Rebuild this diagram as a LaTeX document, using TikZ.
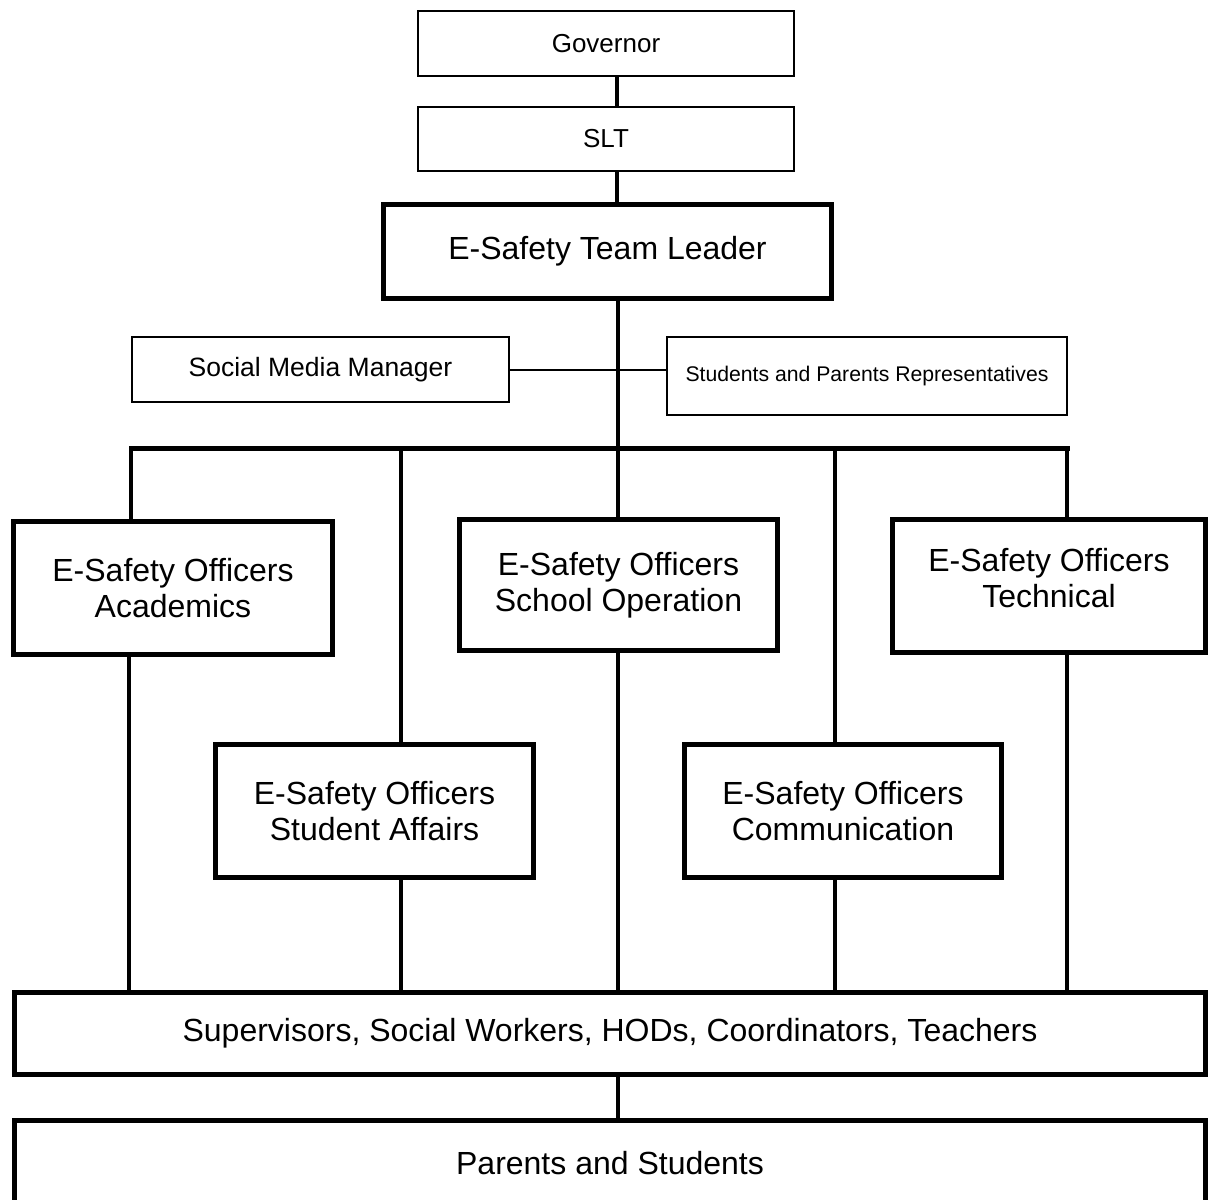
\documentclass[tikz,border=0pt]{standalone}
\usepackage{fontspec}
\setmainfont{Liberation Sans}
\begin{document}
\begin{tikzpicture}[x=1pt,y=-1pt,
  thinbox/.style={draw, line width=2pt, inner sep=0pt, align=center, font=\fontsize{26}{30}\selectfont},
  smallbox/.style={thinbox, font=\fontsize{21.2}{25}\selectfont},
  thickbox/.style={draw, line width=5pt, inner sep=0pt, align=center, font=\fontsize{32}{35.5}\selectfont},
  link/.style={line width=4.5pt},
  thinlink/.style={line width=2pt},
  buslink/.style={line width=5pt}]
\useasboundingbox (0,0) rectangle (1211,1200);
% boxes
\node[thinbox, minimum width=376pt, minimum height=65pt] (gov) at (606,43.5) {Governor};
\node[thinbox, minimum width=376pt, minimum height=64pt] (slt) at (606,139) {SLT};
\node[thickbox, minimum width=448pt, minimum height=94pt] (tl) at (607.5,251.5) {E-Safety Team Leader};
\node[thinbox, minimum width=377pt, minimum height=65pt, font=\fontsize{26.5}{30}\selectfont] (smm) at (320.5,369.5) {Social Media Manager};
\node[smallbox, minimum width=400pt, minimum height=78pt] (spr) at (867,376) {Students and Parents Representatives};
\node[thickbox, minimum width=319pt, minimum height=133pt] (acad) at (173,588) {E-Safety Officers\\Academics};
\node[thickbox, minimum width=318pt, minimum height=131pt] (schop) at (618.5,585) {E-Safety Officers\\School Operation};
\node[thickbox, minimum width=313pt, minimum height=133pt, text depth=16pt] (tech) at (1049,586) {E-Safety Officers\\Technical};
\node[thickbox, minimum width=318pt, minimum height=133pt] (sa) at (374.5,811) {E-Safety Officers\\Student Affairs};
\node[thickbox, minimum width=317pt, minimum height=133pt] (comm) at (843,811) {E-Safety Officers\\Communication};
\node[thickbox, minimum width=1191pt, minimum height=82pt] (sup) at (610,1033.5) {Supervisors, Social Workers, HODs, Coordinators, Teachers};
\node[thickbox, minimum width=1191pt, minimum height=86pt] (par) at (610,1163.5) {Parents and Students};
% coordinates
\coordinate (spine) at (617,0);
\coordinate (busL) at (129,448);
\coordinate (busR) at (1070,448);
\coordinate (v1) at (131,448);
\coordinate (v1b) at (129,0);
\coordinate (v2) at (401,448);
\coordinate (v3) at (618,448);
\coordinate (v4) at (835,448);
\coordinate (v5) at (1067,448);
% top chain
\draw[link] (gov.south -| spine) -- (slt.north -| spine);
\draw[link] (slt.south -| spine) -- (tl.north -| spine);
\draw[link] (tl.south -| v3) -- (v3);
\draw[thinlink] (smm.east) -- (smm.east -| spr.west);
\draw[buslink] (busL) -- (busR);
% branches down
\draw[link] (v1) -- (acad.north -| v1);
\draw[link] (acad.south -| v1b) -- (sup.north -| v1b);
\draw[link] (v2) -- (sa.north -| v2);
\draw[link] (sa.south -| v2) -- (sup.north -| v2);
\draw[link] (v3) -- (schop.north -| v3);
\draw[link] (schop.south -| v3) -- (sup.north -| v3);
\draw[link] (v4) -- (comm.north -| v4);
\draw[link] (comm.south -| v4) -- (sup.north -| v4);
\draw[link] (v5) -- (tech.north -| v5);
\draw[link] (tech.south -| v5) -- (sup.north -| v5);
\draw[line width=3.5pt] (sup.south -| v3) -- (par.north -| v3);
\end{tikzpicture}
\end{document}
